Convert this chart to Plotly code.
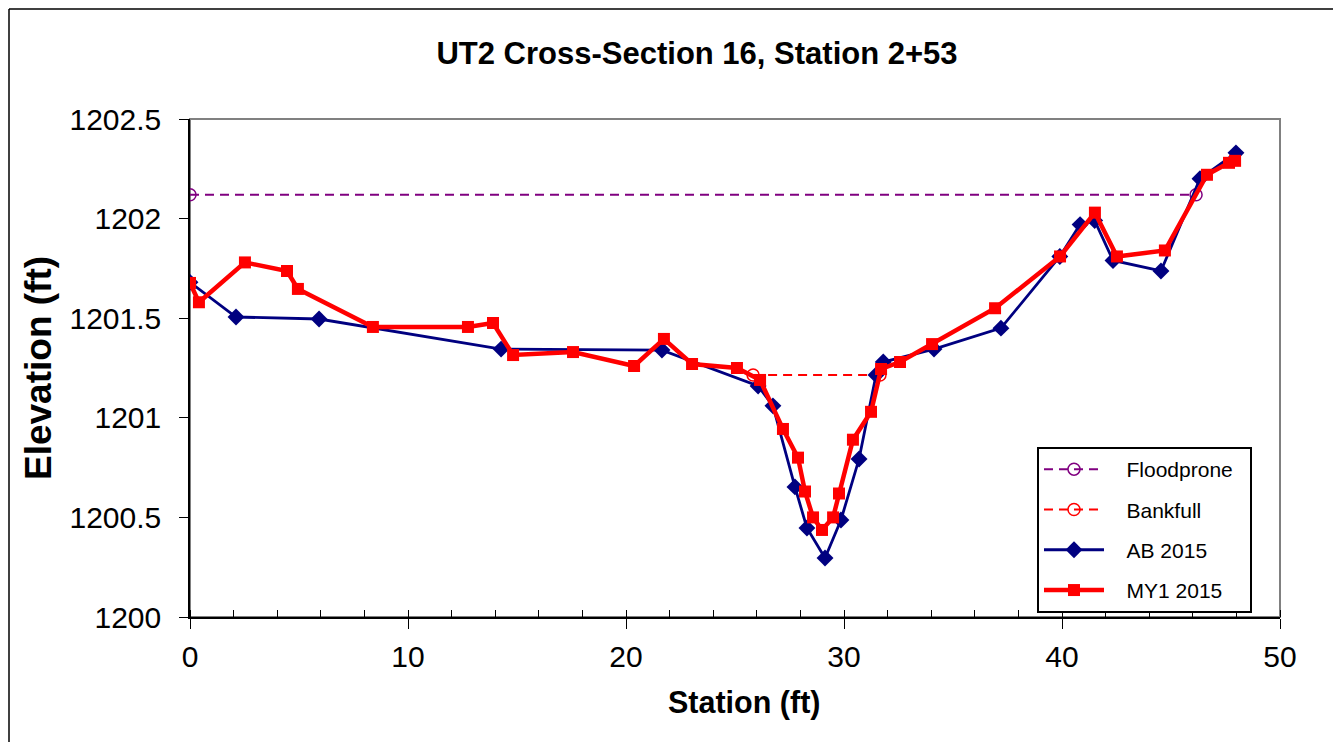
import plotly.graph_objects as go

# ---- data ----
flood_x = [0.0, 46.15]
flood_y = [1202.12, 1202.12]

bank_x = [25.83, 31.65]
bank_y = [1201.215, 1201.215]

ab_x = [0.0, 2.11, 5.92, 14.27, 21.65, 26.06, 26.74, 27.75, 28.30, 29.13, 29.86,
        30.69, 31.47, 31.80, 34.13, 37.20, 39.90, 40.83, 41.50, 42.34, 44.54,
        46.33, 47.98]
ab_y = [1201.68, 1201.506, 1201.496, 1201.345, 1201.34, 1201.16, 1201.06, 1200.653,
        1200.447, 1200.296, 1200.487, 1200.793, 1201.215, 1201.28, 1201.345,
        1201.45, 1201.81, 1201.97, 1201.99, 1201.79, 1201.737, 1202.20, 1202.33]

my1_x = [0.0, 0.41, 2.52, 4.45, 4.95, 8.39, 12.75, 13.90, 14.82, 17.57, 20.37,
         21.74, 23.03, 25.09, 26.15, 27.20, 27.89, 28.21, 28.58, 28.99, 29.50,
         29.77, 30.41, 31.24, 31.70, 32.57, 34.04, 36.93, 39.91, 41.51, 42.52,
         44.72, 46.65, 47.66, 47.94]
my1_y = [1201.677, 1201.58, 1201.78, 1201.737, 1201.647, 1201.456, 1201.456,
         1201.476, 1201.315, 1201.33, 1201.26, 1201.396, 1201.27, 1201.25,
         1201.19, 1200.944, 1200.80, 1200.63, 1200.50, 1200.437, 1200.50,
         1200.62, 1200.89, 1201.03, 1201.245, 1201.28, 1201.37, 1201.55,
         1201.81, 1202.03, 1201.81, 1201.84, 1202.22, 1202.28, 1202.29]

series_names = ["Floodprone", "Bankfull", "AB 2015", "MY1 2015"]
x_ticks = [0, 10, 20, 30, 40, 50]
y_ticks = [1200, 1200.5, 1201, 1201.5, 1202, 1202.5]
y_tick_text = ["1200", "1200.5", "1201", "1201.5", "1202", "1202.5"]

FONT = "Liberation Sans, Arial, sans-serif"
NB = "\u00a0"

def lname(s):
    return NB * 3 + s + NB * 2

fig = go.Figure()
fig.add_trace(go.Scatter(
    x=flood_x, y=flood_y, name=lname(series_names[0]), mode="lines+markers", legendgroup="a",
    line=dict(color="#800080", width=2, dash="9px,6px"),
    marker=dict(symbol="circle-open", size=12, color="#800080", line=dict(width=1.5))))
fig.add_trace(go.Scatter(
    x=bank_x, y=bank_y, name=lname(series_names[1]), mode="lines+markers", legendgroup="b",
    line=dict(color="#FF0000", width=2, dash="9px,6px"),
    marker=dict(symbol="circle-open", size=12, color="#FF0000", line=dict(width=1.5))))
fig.add_trace(go.Scatter(
    x=ab_x, y=ab_y, name=lname(series_names[2]), mode="lines+markers", legendgroup="c",
    line=dict(color="#000080", width=2.8),
    marker=dict(symbol="diamond", size=13, color="#000080")))
fig.add_trace(go.Scatter(
    x=my1_x, y=my1_y, name=lname(series_names[3]), mode="lines+markers", legendgroup="d",
    line=dict(color="#FF0000", width=4.5),
    marker=dict(symbol="square", size=12, color="#FF0000")))

# page offset of the figure inside the html body (8px body margin)
OFF = 8
W, H = 1333, 734
L = 190 - OFF
T = 119 - OFF
R = W - (1280 - OFF)
B = H - (617 - OFF)
pw, ph = W - L - R, H - T - B

def px(xp):  # page x -> paper
    return (xp - OFF - L) / pw

def py(yp):  # page y -> paper
    return (H - B - (yp - OFF)) / ph

shapes = [
    dict(type="rect", xref="paper", yref="paper", x0=0, x1=1, y0=0, y1=1,
         line=dict(color="#808080", width=2), layer="below"),
    dict(type="line", xref="paper", yref="paper", x0=px(9), x1=px(9), y0=py(9), y1=py(760),
         line=dict(color="#000000", width=1.5)),
    dict(type="line", xref="paper", yref="paper", x0=px(9), x1=px(1336), y0=py(9), y1=py(9),
         line=dict(color="#000000", width=1.5)),
    dict(type="line", xref="paper", yref="paper", x0=px(1336), x1=px(1336), y0=py(9), y1=py(760),
         line=dict(color="#000000", width=1.5)),
]

annotations = [
    dict(text="<b>Station (ft)</b>", xref="paper", yref="paper", x=px(744), y=py(702),
         xanchor="center", yanchor="middle", showarrow=False, font=dict(size=30.5, family=FONT)),
    dict(text="<b>Elevation (ft)</b>", xref="paper", yref="paper", x=px(38), y=py(368),
         xanchor="center", yanchor="middle", textangle=-90, showarrow=False,
         font=dict(size=37, family=FONT)),
]

fig.update_layout(
    width=W, height=H,
    margin=dict(l=L, r=R, t=T, b=B),
    paper_bgcolor="white", plot_bgcolor="white",
    font=dict(family=FONT, color="black"),
    title=dict(text="<b>UT2 Cross-Section 16, Station 2+53</b>",
               x=(697 - OFF) / W, xanchor="center",
               y=1 - (53 - OFF) / H, yanchor="middle", font=dict(size=31, family=FONT)),
    showlegend=True,
    legend=dict(x=px(1037), y=py(447), xanchor="left", yanchor="top",
                bgcolor="white", bordercolor="black", borderwidth=2,
                font=dict(size=21, family=FONT), tracegroupgap=10,
                itemwidth=60),
    shapes=shapes,
    annotations=annotations,
    xaxis=dict(
        range=[0, 50], tickvals=x_ticks, showgrid=False, zeroline=False,
        showline=True, linecolor="black", linewidth=1.5,
        ticks="outside", ticklen=10, tickwidth=1, tickcolor="black",
        minor=dict(dtick=2, ticks="inside", ticklen=7, tickcolor="black", tickwidth=1,
                   showgrid=False),
        tickfont=dict(size=30, family=FONT), ticklabelstandoff=2,
    ),
    xaxis2=dict(overlaying="x", anchor="y", side="bottom", range=[0, 50],
                tickvals=x_ticks, ticks="inside", ticklen=7, tickwidth=1, tickcolor="black",
                showticklabels=False, showgrid=False, zeroline=False, showline=False),
    yaxis=dict(
        range=[1200, 1202.5], tickvals=y_ticks, ticktext=y_tick_text, showgrid=False,
        zeroline=False, showline=True, linecolor="black", linewidth=1.5,
        ticks="outside", ticklen=9, tickwidth=1, tickcolor="black",
        tickfont=dict(size=30, family=FONT), ticklabelstandoff=12,
    ),
)

fig.write_html("out.html")
